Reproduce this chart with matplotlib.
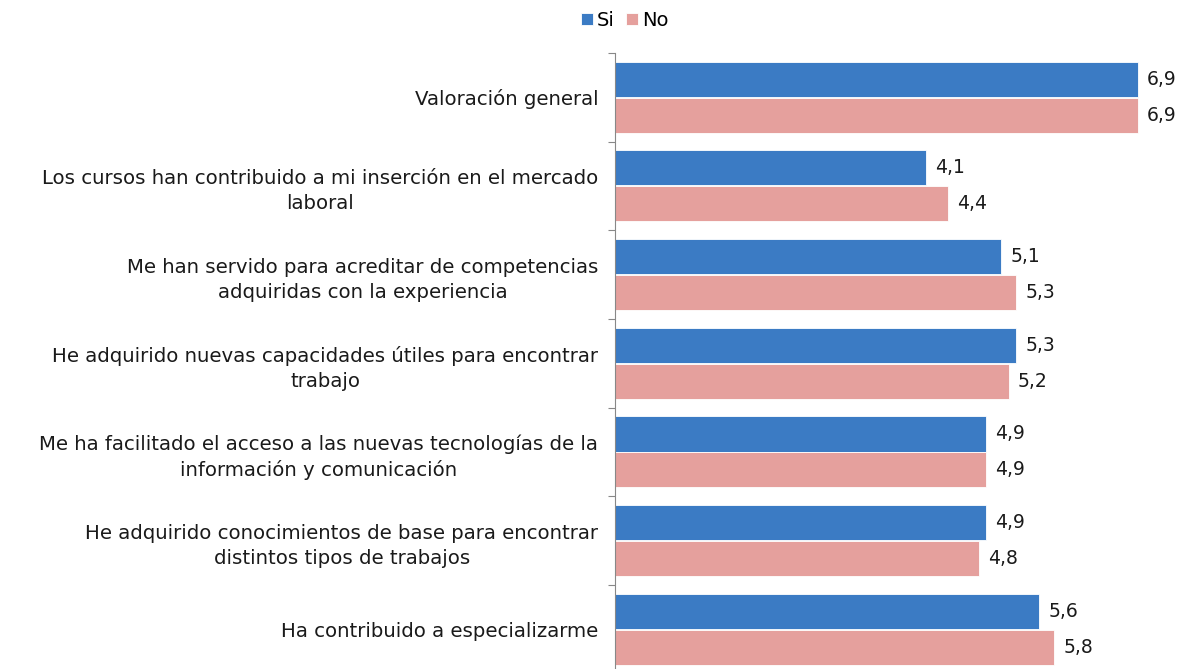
import matplotlib.pyplot as plt
import numpy as np

categorias = [
    "Valoración general",
    "Los cursos han contribuido a mi inserción en el mercado\nlaboral",
    "Me han servido para acreditar de competencias\nadquiridas con la experiencia",
    "He adquirido nuevas capacidades útiles para encontrar\ntrabajo",
    "Me ha facilitado el acceso a las nuevas tecnologías de la\ninformación y comunicación",
    "He adquirido conocimientos de base para encontrar\ndistintos tipos de trabajos",
    "Ha contribuido a especializarme",
]
si = [6.9, 4.1, 5.1, 5.3, 4.9, 4.9, 5.6]
no = [6.9, 4.4, 5.3, 5.2, 4.9, 4.8, 5.8]
etiquetas_si = ["6,9", "4,1", "5,1", "5,3", "4,9", "4,9", "5,6"]
etiquetas_no = ["6,9", "4,4", "5,3", "5,2", "4,9", "4,8", "5,8"]

plt.rcParams['font.family'] = ['DejaVu Sans']

fig = plt.figure(figsize=(11.79, 6.69), dpi=100)
ax = fig.add_axes([0.5216, -0.007, 0.478, 0.928])

y = np.arange(len(categorias))
h = 0.395
azul = '#3B7BC4'
rosa = '#E5A09D'

b1 = ax.barh(y - h / 2 - 0.005, si, height=h, color=azul, edgecolor='white', linewidth=0.6, label='Si')
b2 = ax.barh(y + h / 2 + 0.005, no, height=h, color=rosa, edgecolor='white', linewidth=0.6, label='No')

for bar, t in zip(b1, etiquetas_si):
    ax.text(bar.get_width() + 0.12, bar.get_y() + bar.get_height() / 2, t,
            va='center', ha='left', fontsize=13.5, color='#1a1a1a')
for bar, t in zip(b2, etiquetas_no):
    ax.text(bar.get_width() + 0.12, bar.get_y() + bar.get_height() / 2, t,
            va='center', ha='left', fontsize=13.5, color='#1a1a1a')

ax.set_ylim(len(categorias) - 0.5, -0.5)
ax.set_xlim(0, 7.44)

ax.set_yticks(y)
ax.set_yticklabels(categorias, fontsize=14.2, color='#1a1a1a', multialignment='center',
                   linespacing=1.4)
ax.tick_params(axis='y', which='major', length=0, pad=12)
ax.set_yticks(np.arange(-0.5, len(categorias), 1), minor=True)
ax.tick_params(axis='y', which='minor', length=5, color='#888888', width=0.8)
ax.set_xticks([])

for s in ['top', 'right', 'bottom']:
    ax.spines[s].set_visible(False)
ax.spines['left'].set_color('#888888')
ax.spines['left'].set_linewidth(0.8)

fig.legend(handles=[b1, b2], labels=['Si', 'No'], loc='center', bbox_to_anchor=(0.53, 0.97),
           ncol=2, frameon=False, fontsize=14, handlelength=0.6, handleheight=0.6,
           handletextpad=0.2, columnspacing=0.6)

fig.savefig('out.png', dpi=100)
